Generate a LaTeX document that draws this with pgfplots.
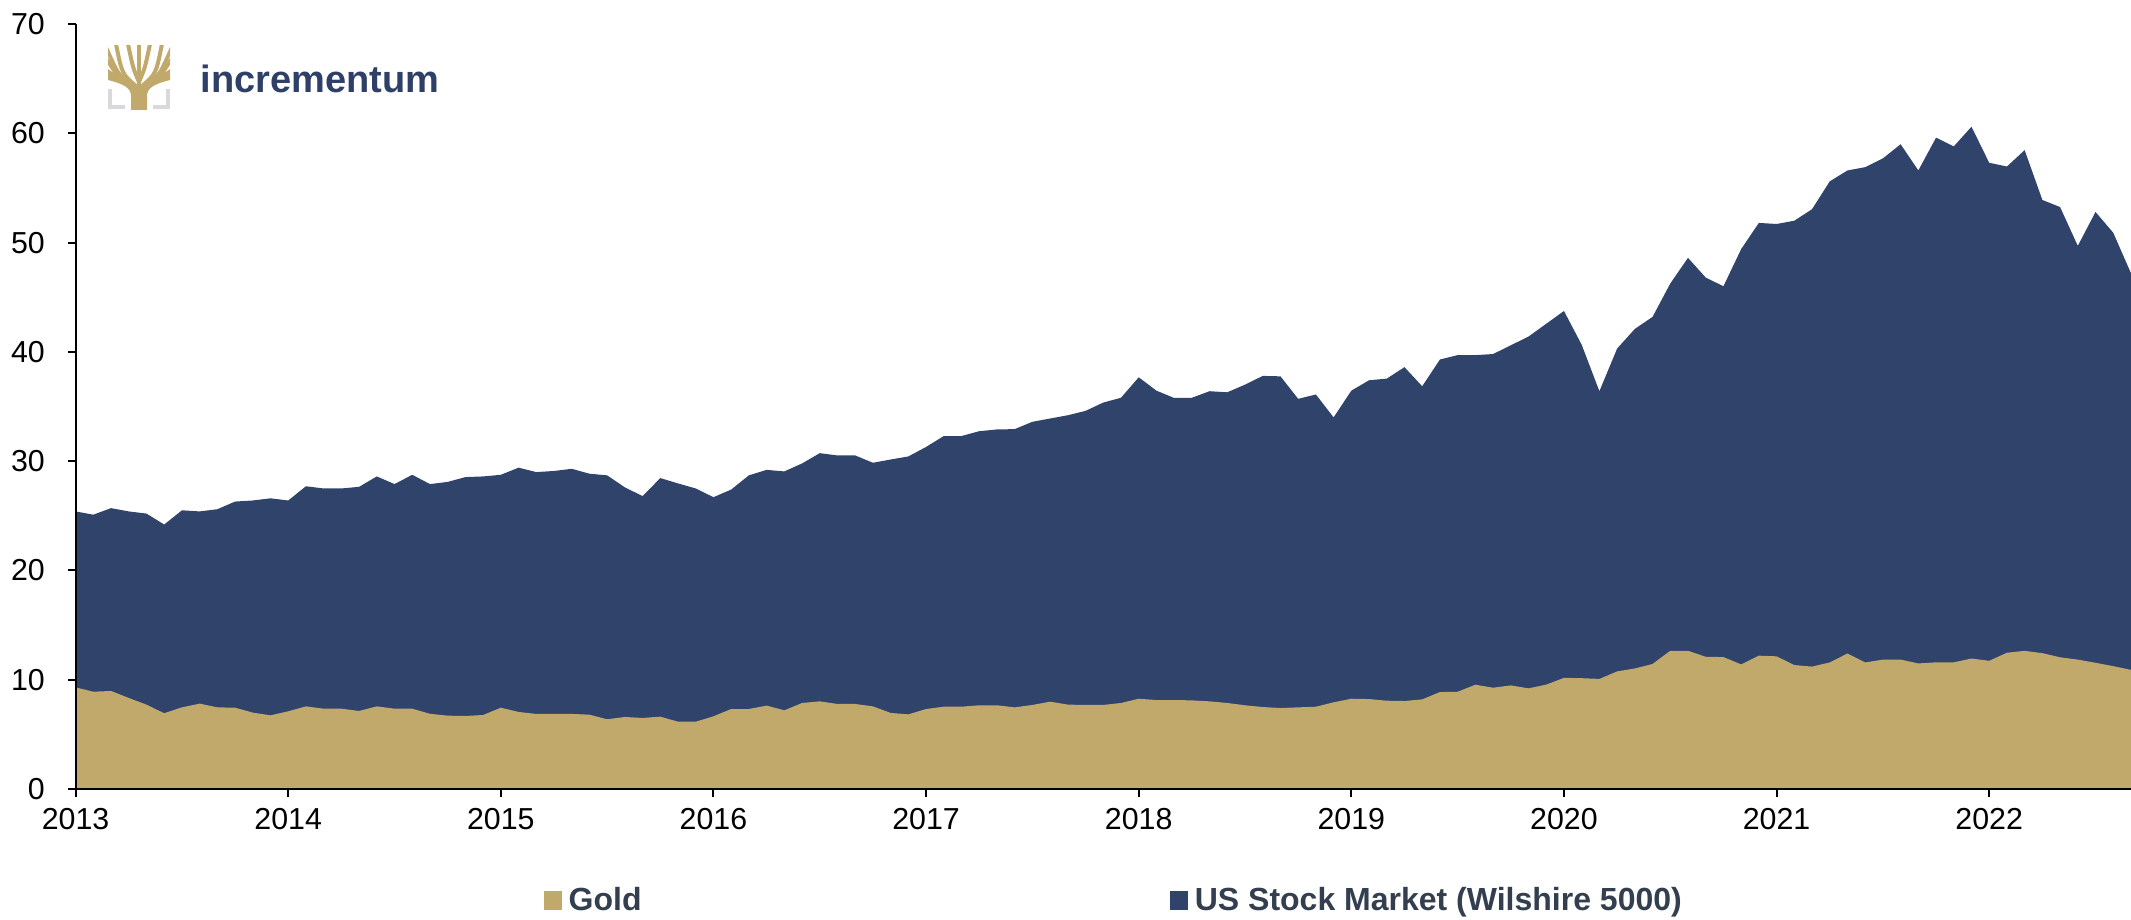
\documentclass[border=0pt]{standalone}
\usepackage{pgfplots}
\pgfplotsset{compat=1.18}
\usepackage{pgfplotstable}
\usepackage{fontspec}
\setmainfont{Liberation Sans}
\definecolor{navy}{HTML}{2F436B}
\definecolor{goldc}{HTML}{C1A96C}
\definecolor{legtext}{HTML}{333F4F}
\definecolor{logoblue}{HTML}{2E4068}
\definecolor{brk}{HTML}{D9D9DD}

\pgfplotstableread{
k total gold
0 25.4 9.30
1 25.1 8.90
2 25.7 8.97
3 25.4 8.33
4 25.2 7.72
5 24.2 6.93
6 25.5 7.47
7 25.4 7.81
8 25.6 7.47
9 26.3 7.44
10 26.4 6.99
11 26.6 6.74
12 26.4 7.11
13 27.7 7.56
14 27.5 7.35
15 27.5 7.35
16 27.65 7.14
17 28.6 7.56
18 27.9 7.35
19 28.75 7.35
20 27.9 6.88
21 28.1 6.71
22 28.54 6.68
23 28.6 6.77
24 28.75 7.44
25 29.4 7.05
26 29.0 6.87
27 29.1 6.87
28 29.3 6.87
29 28.85 6.80
30 28.7 6.38
31 27.6 6.59
32 26.8 6.50
33 28.45 6.62
34 27.96 6.16
35 27.5 6.16
36 26.7 6.65
37 27.4 7.32
38 28.7 7.32
39 29.2 7.63
40 29.06 7.20
41 29.79 7.87
42 30.73 8.02
43 30.52 7.78
44 30.52 7.78
45 29.85 7.56
46 30.15 6.96
47 30.43 6.83
48 31.3 7.32
49 32.3 7.53
50 32.3 7.53
51 32.74 7.66
52 32.9 7.66
53 32.93 7.47
54 33.6 7.69
55 33.9 7.99
56 34.2 7.72
57 34.6 7.69
58 35.36 7.69
59 35.8 7.87
60 37.67 8.26
61 36.45 8.14
62 35.78 8.14
63 35.8 8.11
64 36.4 8.02
65 36.3 7.87
66 37.0 7.66
67 37.8 7.50
68 37.76 7.41
69 35.7 7.47
70 36.1 7.53
71 34.0 7.93
72 36.45 8.26
73 37.4 8.23
74 37.55 8.08
75 38.6 8.05
76 36.85 8.20
77 39.3 8.87
78 39.7 8.90
79 39.7 9.54
80 39.8 9.27
81 40.6 9.48
82 41.4 9.21
83 42.57 9.55
84 43.74 10.17
85 40.65 10.14
86 36.4 10.07
87 40.3 10.76
88 42.1 11.03
89 43.2 11.44
90 46.25 12.65
91 48.6 12.65
92 46.8 12.10
93 46.0 12.07
94 49.4 11.40
95 51.8 12.20
96 51.7 12.14
97 52.0 11.34
98 53.05 11.20
99 55.6 11.58
100 56.6 12.40
101 56.9 11.58
102 57.7 11.84
103 59.0 11.84
104 56.6 11.49
105 59.6 11.59
106 58.8 11.59
107 60.6 11.94
108 57.3 11.73
109 56.96 12.47
110 58.46 12.64
111 53.9 12.43
112 53.25 12.05
113 49.7 11.84
114 52.8 11.55
115 50.9 11.24
116 47.2 10.90
}\datatab

\begin{document}
\begin{tikzpicture}
\useasboundingbox (0,0) rectangle (639.3pt,275.7pt);
\begin{axis}[
  at={(22.68pt,39pt)}, anchor=south west,
  scale only axis, width=616.6pt, height=229.5pt,
  xmin=0, xmax=116, ymin=0, ymax=70,
  axis x line*=bottom, axis y line*=left,
  axis on top,
  axis line style={black, line width=0.6pt},
  tick align=outside, major tick length=2.4pt,
  tick style={black, line width=0.6pt},
  xtick={0,12,...,108},
  xticklabels={2013,2014,2015,2016,2017,2018,2019,2020,2021,2022},
  ytick={0,10,...,70},
  /pgf/number format/assume math mode=true,
  tick label style={font=\fontsize{9.1}{10.5}\selectfont, black},
  yticklabel style={xshift=-3.3pt},
  legend style={at={(0.2274,-0.1464)}, anchor=west, draw=none, fill=none,
    inner sep=0pt, legend columns=2,
    font=\bfseries\fontsize{9.6}{11}\selectfont\color{legtext},
    /tikz/every even column/.append style={column sep=156.5pt}},
  legend cell align=left,
  legend image code/.code={\fill[#1] (0pt,-2.6pt) rectangle (5.1pt,2.8pt);},
]
\addlegendimage{goldc}
\addlegendentry{Gold}
\addlegendimage{navy}
\addlegendentry{US Stock Market (Wilshire 5000)}
\addplot[draw=none, fill=navy, forget plot] table[x=k, y=total] {\datatab} \closedcycle;
\addplot[draw=none, fill=goldc, forget plot] table[x=k, y=gold] {\datatab} \closedcycle;
\end{axis}
% logo
\begin{scope}[shift={(0,275.7pt)}, x=0.3pt, y=-0.3pt]
  \begin{scope}
  \clip (108,46) rectangle (170,110);
  \fill[goldc] (131,110) -- (131,96) .. controls (131,88) and (124,84) .. (108,80) -- (108,74) .. controls (124,77) and (134,82) .. (139,88) .. controls (144,82) and (154,77) .. (170,74) -- (170,80) .. controls (154,84) and (147,88) .. (147,96) -- (147,110) -- cycle;
  \draw[goldc, line width=1.3pt] (139,92) -- (139,44);
  \draw[goldc, line width=1.2pt] (139,82) .. controls (133,68) .. (128,44);
  \draw[goldc, line width=1.2pt] (139,82) .. controls (145,68) .. (150,44);
  \draw[goldc, line width=1.2pt] (136,86) .. controls (122,74) .. (116,44);
  \draw[goldc, line width=1.2pt] (142,86) .. controls (156,74) .. (162,44);
  \draw[goldc, line width=1.2pt] (134,87) .. controls (120,80) .. (106,58);
  \draw[goldc, line width=1.2pt] (144,87) .. controls (158,80) .. (172,58);
  \draw[goldc, line width=1.1pt] (130,84) .. controls (118,74) .. (106,47);
  \draw[goldc, line width=1.1pt] (148,84) .. controls (160,74) .. (172,47);
  \draw[goldc, line width=1.1pt] (133,88) -- (106,70);
  \draw[goldc, line width=1.1pt] (145,88) -- (172,70);
  \end{scope}
  \draw[brk, line width=1.2pt] (110,89) -- (110,107.5) -- (125,107.5);
  \draw[brk, line width=1.2pt] (168,89) -- (168,107.5) -- (153,107.5);
  \node[anchor=base west, inner sep=0pt, text=logoblue, font=\bfseries\fontsize{11.4}{13}\selectfont] at (200,93) {incrementum};
\end{scope}
\end{tikzpicture}
\end{document}
